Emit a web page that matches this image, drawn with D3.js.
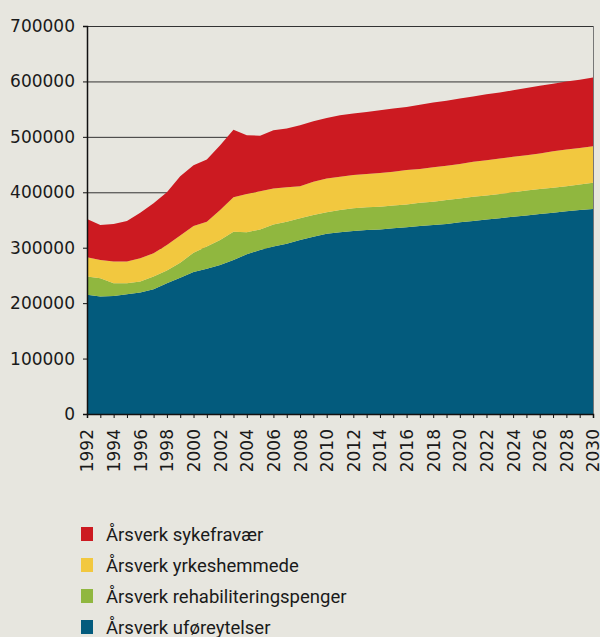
<!DOCTYPE html>
<html>
<head>
<meta charset="utf-8">
<script src="https://cdn.jsdelivr.net/npm/d3@7/dist/d3.min.js"></script>
<style>
  html, body { margin: 0; padding: 0; background: #e7e6df; }
  svg { display: block; }
</style>
</head>
<body>
<svg id="chart" width="600" height="637"></svg>
<script>
const years = d3.range(1992, 2031);
const seriesNames = ["Årsverk uføreytelser", "Årsverk rehabiliteringspenger", "Årsverk yrkeshemmede", "Årsverk sykefravær"];
const seriesColors = ["#035b7d", "#90b73f", "#f2c83f", "#cc1a21"];

const uforeytelser = [215000,212000,213000,216000,219000,225000,236000,246000,256000,262000,269000,278000,288000,296000,302000,307000,314000,320000,325000,328000,330000,332000,333000,335000,337000,339000,341000,343000,346000,348000,351000,353000,356000,358000,361000,363000,366000,368000,370000];
const rehabilitering = [33000,33000,23000,20000,20000,23000,23000,27000,35000,40000,45000,51000,40000,37000,40000,40000,39000,39000,39000,40000,41000,41000,41000,41000,41000,42000,42000,43000,43000,44000,43000,44000,44000,45000,45000,45000,45000,46000,47000];
const yrkeshemmede = [35000,33000,39000,39000,42000,42000,46000,49000,48000,45000,54000,62000,69000,69000,65000,62000,58000,60000,61000,60000,60000,60000,61000,61000,62000,61000,62000,62000,62000,63000,64000,64000,64000,64000,64000,66000,66000,66000,66000];
const sykefravaer = [69000,63000,68000,73000,82000,90000,95000,107000,110000,112000,117000,122000,106000,100000,105000,106000,110000,109000,109000,111000,111000,112000,113000,114000,114000,116000,117000,117000,118000,118000,119000,119000,120000,121000,122000,122000,123000,123000,124000];

const yTicks = [0,100000,200000,300000,400000,500000,600000,700000];
const xTickLabels = d3.range(1992, 2031, 2);

const table = years.map((yr, i) => ({
  year: yr,
  s0: uforeytelser[i], s1: rehabilitering[i], s2: yrkeshemmede[i], s3: sykefravaer[i]
}));

const svg = d3.select("#chart");
const plotLeft = 87, plotRight = 593, plotTop = 26, plotBottom = 414;

const x = d3.scaleLinear().domain([1992, 2030]).range([plotLeft, plotRight]);
const y = d3.scaleLinear().domain([0, 700000]).range([plotBottom, plotTop]);

// gridlines
svg.append("g").selectAll("line").data(yTicks.filter(d => d > 0)).join("line")
  .attr("x1", plotLeft).attr("x2", plotRight)
  .attr("y1", d => y(d) + 0.5).attr("y2", d => y(d) + 0.5)
  .attr("stroke", "#333").attr("stroke-width", 1);
svg.append("line")
  .attr("x1", plotRight + 0.5).attr("x2", plotRight + 0.5)
  .attr("y1", plotTop).attr("y2", plotBottom)
  .attr("stroke", "#777").attr("stroke-width", 1);

const stack = d3.stack().keys(["s0","s1","s2","s3"]);
const layers = stack(table);
const area = d3.area()
  .x(d => x(d.data.year))
  .y0(d => y(d[0]))
  .y1(d => y(d[1]));

svg.append("g").selectAll("path").data(layers).join("path")
  .attr("d", area)
  .attr("fill", (d, i) => seriesColors[i]);

// y axis
const yAxis = d3.axisLeft(y).tickValues(yTicks).tickSize(4).tickPadding(8).tickFormat(d3.format("d"));
const gy = svg.append("g").attr("transform", `translate(${plotLeft},0)`).call(yAxis);
gy.select(".domain").attr("stroke", "#111").attr("stroke-width", 1.5);
gy.selectAll(".tick line").attr("stroke", "#111");
gy.selectAll("text").attr("font-family", "DejaVu Sans").attr("font-size", 17).attr("fill", "#1a1a1a");

// x axis
const xAxis = d3.axisBottom(x).tickValues(years).tickSize(4).tickFormat(d => xTickLabels.includes(d) ? d : "");
const gx = svg.append("g").attr("transform", `translate(0,${plotBottom})`).call(xAxis);
gx.select(".domain").attr("stroke", "#111").attr("stroke-width", 1.5);
gx.selectAll(".tick line").attr("stroke", "#111");
gx.selectAll("text")
  .attr("font-family", "DejaVu Sans").attr("font-size", 17).attr("fill", "#1a1a1a")
  .attr("transform", "rotate(-90)")
  .attr("text-anchor", "end")
  .attr("x", -15).attr("y", 0).attr("dy", "0.35em");

// legend
const legendOrder = [3, 2, 1, 0];
const lg = svg.append("g");
legendOrder.forEach((si, k) => {
  const yy = 527 + k * 31;
  lg.append("rect").attr("x", 81).attr("y", yy).attr("width", 12).attr("height", 14).attr("fill", seriesColors[si]);
  lg.append("text").attr("x", 106).attr("y", yy + 14)
    .attr("font-family", "Roboto").attr("font-size", 18.5).attr("fill", "#1a1a1a")
    .text(seriesNames[si]);
});
</script>
</body>
</html>
